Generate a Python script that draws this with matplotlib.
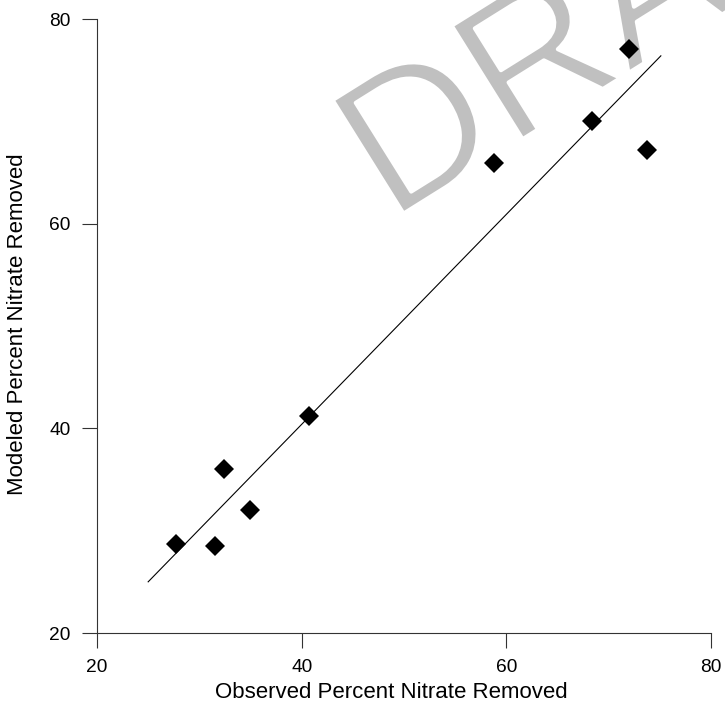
import matplotlib
matplotlib.use('Agg')
import matplotlib.pyplot as plt
import matplotlib.patheffects as pe

plt.rcParams['font.family'] = ['Liberation Sans', 'DejaVu Sans']

# observed vs modeled percent nitrate removed
observed = [27.7, 31.5, 32.4, 35.0, 40.7, 58.8, 68.4, 72.0, 73.7]
modeled = [28.7, 28.5, 36.0, 32.0, 41.2, 65.9, 70.0, 77.1, 67.2]

# fitted line end points
fit_x = [25.0, 75.1]
fit_y = [25.0, 76.4]

ticks = [20, 40, 60, 80]

fig = plt.figure(figsize=(7.25, 7.06), dpi=100)
ax = fig.add_axes([97 / 725, 73 / 706, 614 / 725, 614 / 706])

# watermark, drawn under the marks; white outline thins the strokes a bit
ax.text(390 / 725, 1 - 222 / 706, 'DRAFT', transform=fig.transFigure,
        fontsize=140, color='#c0c0c0', rotation=32, rotation_mode='anchor',
        ha='left', va='baseline', zorder=0, clip_on=False,
        path_effects=[pe.Stroke(linewidth=2.9, foreground='white')])

ax.plot(fit_x, fit_y, color='black', linewidth=0.8, zorder=2)
ax.plot(observed, modeled, linestyle='none', marker='D', markersize=10.5,
        markeredgewidth=0, color='black', zorder=3)

ax.set_xlim(20, 80)
ax.set_ylim(20, 80)
ax.set_xticks(ticks)
ax.set_yticks(ticks)
ax.tick_params(direction='out', length=11, width=0.8, pad=8, labelsize=13.8, color='#333333')
for s in ['top', 'right']:
    ax.spines[s].set_visible(False)
for s in ['left', 'bottom']:
    ax.spines[s].set_linewidth(0.8)
    ax.spines[s].set_color('#333333')

fig.text(391.5 / 725, 1 - 692 / 706, 'Observed Percent Nitrate Removed',
         fontsize=16, ha='center', va='center')
fig.text(17.7 / 725, 1 - 324 / 706, 'Modeled Percent Nitrate Removed',
         fontsize=16, rotation=90, ha='center', va='center')

fig.savefig('out.png', dpi=100)
